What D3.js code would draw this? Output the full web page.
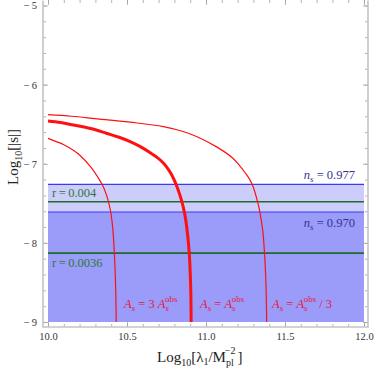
<!DOCTYPE html>
<html>
<head>
<meta charset="utf-8">
<script src="https://cdn.jsdelivr.net/npm/d3@7"></script>
<style>
  body { margin: 0; background: #fff; }
  svg { display: block; }
  svg text { font-family: "Liberation Serif", "Times New Roman", "DejaVu Serif", serif; }
</style>
</head>
<body>
<svg id="chart" width="374" height="374"></svg>
<script>
// curves: [log10 lambda1, log10 |s|]
var curveThree = [[10.0, -6.68], [10.1, -6.76], [10.16, -6.83], [10.2, -6.89], [10.27, -7.04],
    [10.325, -7.2], [10.35, -7.29], [10.371, -7.40], [10.385, -7.5], [10.397, -7.61],
    [10.41, -7.82], [10.42, -8.13], [10.428, -8.55], [10.432, -9.0]];
var curveObs = [[10.0, -6.46], [10.08, -6.48], [10.16, -6.51], [10.27, -6.555], [10.37, -6.615],
    [10.45, -6.665], [10.52, -6.72], [10.59, -6.79], [10.646, -6.86], [10.69, -6.92],
    [10.73, -6.99], [10.765, -7.08], [10.793, -7.18], [10.82, -7.31], [10.846, -7.47],
    [10.865, -7.63], [10.878, -7.80], [10.894, -8.13], [10.903, -8.55], [10.906, -9.0]];
var curveThird = [[10.0, -6.38], [10.15, -6.40], [10.3, -6.43], [10.52, -6.475], [10.73, -6.53],
    [10.86, -6.595], [10.94, -6.655], [11.07, -6.79], [11.17, -6.93], [11.215, -7.03],
    [11.25, -7.12], [11.28, -7.21], [11.30, -7.30], [11.325, -7.47], [11.342, -7.62],
    [11.36, -7.86], [11.373, -8.22], [11.38, -8.55], [11.384, -9.0]];

var nsLevels = [-7.26, -7.61];      // n_s = 0.977, n_s = 0.970
var rLevels = [-7.48, -8.13];       // r = 0.004, r = 0.0036
var xTicks = [10.0, 10.5, 11.0, 11.5, 12.0];
var yTicks = [-9, -8, -7, -6, -5];

var svg = d3.select('#chart');

var x = d3.scaleLinear().domain([10, 12]).range([48, 364]);
var y = d3.scaleLinear().domain([-9, -5]).range([322, 5.5]);

// bands
svg.append('rect')
    .attr('x', x(10)).attr('width', x(12) - x(10))
    .attr('y', y(nsLevels[0])).attr('height', y(-9) - y(nsLevels[0]))
    .attr('fill', '#cdcdfc');
svg.append('rect')
    .attr('x', x(10)).attr('width', x(12) - x(10))
    .attr('y', y(nsLevels[1])).attr('height', y(-9) - y(nsLevels[1]))
    .attr('fill', '#9b9bf9');

svg.selectAll('.ns')
    .data(nsLevels)
    .enter()
    .append('line')
    .attr('class', 'ns')
    .attr('x1', x(10)).attr('x2', x(12))
    .attr('y1', function (d) { return y(d); })
    .attr('y2', function (d) { return y(d); })
    .attr('stroke', '#3a3af5')
    .attr('stroke-width', 1.2);

svg.selectAll('.rline')
    .data(rLevels)
    .enter()
    .append('line')
    .attr('class', 'rline')
    .attr('x1', x(10)).attr('x2', x(12))
    .attr('y1', function (d) { return y(d); })
    .attr('y2', function (d) { return y(d); })
    .attr('stroke', '#1f6b2a')
    .attr('stroke-width', 1.6);

// curves
var line = d3.line()
    .x(function (d) { return x(d[0]); })
    .y(function (d) { return y(d[1]); })
    .curve(d3.curveCatmullRom.alpha(0.5));

var curves = [
    {pts: curveThree, w: 1.2},
    {pts: curveObs, w: 3},
    {pts: curveThird, w: 1.2}
];
svg.selectAll('.curve')
    .data(curves)
    .enter()
    .append('path')
    .attr('class', 'curve')
    .attr('d', function (d) { return line(d.pts); })
    .attr('fill', 'none')
    .attr('stroke', '#ff1010')
    .attr('stroke-width', function (d) { return d.w; });

// frame and ticks
var fmt = function (d) { return d < 0 ? '\u2212\u2009' + Math.abs(d) : d.toFixed(1); };
var xMinor = d3.range(10, 12.001, 0.1);
var yMinor = d3.range(-9, -4.999, 0.2);

function frame(make, scale, tr, major, minor, labels) {
    var g = svg.append('g').attr('transform', tr);
    g.call(make(scale).tickValues(minor).tickSize(-3).tickFormat(''));
    var m = svg.append('g').attr('transform', tr);
    m.call(make(scale).tickValues(major).tickSize(-5).tickPadding(labels ? 6 : 0)
        .tickFormat(labels ? fmt : ''));
    [g, m].forEach(function (s) {
        s.attr('font-family', null);
        s.select('.domain').remove();
        s.selectAll('.tick line').attr('stroke', '#a0a0a0').attr('stroke-width', 0.8);
        s.selectAll('.tick text').attr('fill', '#333').style('font-size', '10.5px');
    });
}
frame(d3.axisBottom, x, 'translate(0,327)', xTicks, xMinor, true);
frame(d3.axisTop, x, 'translate(0,0)', xTicks, xMinor, false);
frame(d3.axisLeft, y, 'translate(43,0)', yTicks, yMinor, true);
frame(d3.axisRight, y, 'translate(368,0)', yTicks, yMinor, false);

svg.append('path')
    .attr('d', 'M43,0.5V327H368V0.5')
    .attr('fill', 'none')
    .attr('stroke', '#c4c4c4')
    .attr('stroke-width', 1.6);

// labels
function label(tx, ty, col, size, anchor, build) {
    var t = svg.append('text')
        .attr('x', tx).attr('y', ty)
        .attr('fill', col)
        .attr('text-anchor', anchor)
        .style('font-size', size + 'px');
    build(t);
    return t;
}
function asLabel(tx, pre, post) {
    label(tx, 308, '#e8173c', 12.5, 'start', function (t) {
        t.append('tspan').style('font-style', 'italic').text('A');
        t.append('tspan').attr('dy', 3).style('font-size', '9px').style('font-style', 'italic').text('s');
        t.append('tspan').attr('dy', -3).text(' = ' + pre);
        t.append('tspan').style('font-style', 'italic').text('A');
        t.append('tspan').attr('dy', 3).style('font-size', '9px').style('font-style', 'italic').text('s');
        t.append('tspan').attr('dx', -4).attr('dy', -9).style('font-size', '9px').text('obs');
        t.append('tspan').attr('dy', 6).text(post);
    });
}
asLabel(124, '3 ', '');
asLabel(200, '', '');
asLabel(272, '', ' / 3');

function nsLabel(ty, val) {
    label(355, ty, '#34348f', 12.5, 'end', function (t) {
        t.append('tspan').style('font-style', 'italic').text('n');
        t.append('tspan').attr('dy', 3).style('font-size', '9px').style('font-style', 'italic').text('s');
        t.append('tspan').attr('dy', -3).text(' = ' + val);
    });
}
nsLabel(179, '0.977');
nsLabel(227, '0.970');

label(52, 197, '#2a7a32', 12.5, 'start', function (t) { t.text('r\u2009=\u20090.004'); });
label(52, 267, '#2a7a32', 12.5, 'start', function (t) { t.text('r\u2009=\u20090.0036'); });

// axis titles
label(157, 362, '#222', 15, 'start', function (t) {
    t.append('tspan').text('Log');
    t.append('tspan').attr('dy', 4).style('font-size', '10px').text('10');
    t.append('tspan').attr('dy', -4).text('[\u03bb');
    t.append('tspan').attr('dy', 3).style('font-size', '10px').text('1');
    t.append('tspan').attr('dy', -3).text('/M');
    t.append('tspan').attr('dy', 4).style('font-size', '10px').text('pl');
    t.append('tspan').attr('dx', -9).attr('dy', -12).style('font-size', '10px').text('\u22122');
    t.append('tspan').attr('dx', 2).attr('dy', 8).text(']');
});
svg.append('text')
    .attr('transform', 'translate(18,157) rotate(-90)')
    .attr('text-anchor', 'middle')
    .attr('fill', '#222')
    .style('font-size', '15px')
    .call(function (t) {
        t.append('tspan').text('Log');
        t.append('tspan').attr('dy', 4).style('font-size', '10px').text('10');
        t.append('tspan').attr('dy', -4).text('[|s|]');
    });
</script>
</body>
</html>
